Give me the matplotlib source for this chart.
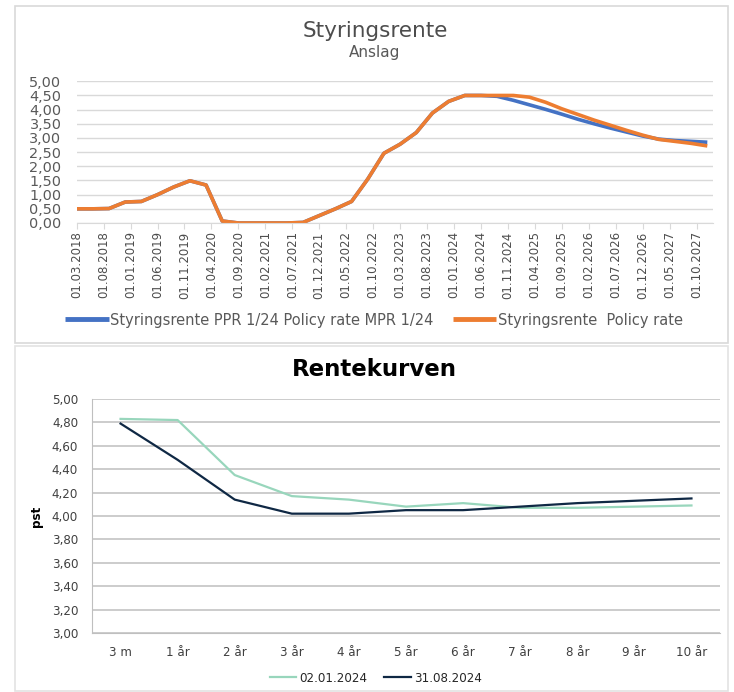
import numpy as np
import matplotlib
matplotlib.use("Agg")
import matplotlib.pyplot as plt
from matplotlib.patches import Rectangle
from matplotlib.ticker import FuncFormatter, MultipleLocator

# --- Styringsrente (quarterly, from 01.03.2018) ---
policy_rate = [0.50, 0.50, 0.51, 0.74, 0.76, 1.00, 1.27, 1.49, 1.34, 0.07,
               0.00, 0.00, 0.00, 0.00, 0.02, 0.26, 0.50, 0.76, 1.55, 2.46,
               2.78, 3.19, 3.88, 4.29, 4.50, 4.50, 4.50, 4.50, 4.44, 4.26,
               4.03, 3.83, 3.63, 3.45, 3.27, 3.10, 2.95, 2.88, 2.81, 2.72]
ppr_124 = [0.50, 0.50, 0.51, 0.74, 0.76, 1.00, 1.27, 1.49, 1.34, 0.07,
           0.00, 0.00, 0.00, 0.00, 0.02, 0.26, 0.50, 0.76, 1.55, 2.46,
           2.78, 3.19, 3.88, 4.29, 4.50, 4.50, 4.47, 4.33, 4.17, 4.01,
           3.84, 3.66, 3.50, 3.35, 3.21, 3.07, 2.96, 2.91, 2.88, 2.85]
date_labels = ['01.03.2018', '01.08.2018', '01.01.2019', '01.06.2019', '01.11.2019',
               '01.04.2020', '01.09.2020', '01.02.2021', '01.07.2021', '01.12.2021',
               '01.05.2022', '01.10.2022', '01.03.2023', '01.08.2023', '01.01.2024',
               '01.06.2024', '01.11.2024', '01.04.2025', '01.09.2025', '01.02.2026',
               '01.07.2026', '01.12.2026', '01.05.2027', '01.10.2027']

# --- Rentekurven ---
maturities = ['3 m', '1 år', '2 år', '3 år', '4 år', '5 år', '6 år', '7 år', '8 år', '9 år', '10 år']
curve_jan = [4.83, 4.82, 4.35, 4.17, 4.14, 4.08, 4.11, 4.07, 4.07, 4.08, 4.09]
curve_aug = [4.79, 4.48, 4.14, 4.02, 4.02, 4.05, 4.05, 4.08, 4.11, 4.13, 4.15]

W, H = 734, 692
fig = plt.figure(figsize=(W / 100, H / 100), dpi=100)
fig.patch.set_facecolor('white')


def fx(px):
    return px / W


def fy(py):
    return 1 - py / H


comma = FuncFormatter(lambda v, p: f'{v:.2f}'.replace('.', ','))
grey_txt = '#595959'

# panel frames
fig.patches.append(Rectangle((fx(15), fy(343)), fx(713), 337 / H, transform=fig.transFigure,
                             fill=False, edgecolor='#D9D9D9', lw=1.2))
fig.patches.append(Rectangle((fx(15), fy(691)), fx(713), 345 / H, transform=fig.transFigure,
                             fill=False, edgecolor='#E3E3E3', lw=1.2))

# ---------------- top chart ----------------
ax1 = fig.add_axes([fx(76.7), fy(223), fx(636), (223 - 81.3) / H])
months = np.arange(len(policy_rate)) * 3
ax1.plot(months, ppr_124, color='#4472C4', lw=2.6, solid_capstyle='butt',
         label='Styringsrente PPR 1/24 Policy rate MPR 1/24')
ax1.plot(months, policy_rate, color='#ED7D31', lw=2.6, solid_capstyle='butt',
         label='Styringsrente  Policy rate')
ax1.set_xlim(0, 118)
ax1.set_ylim(0, 5)
ax1.yaxis.set_major_locator(MultipleLocator(0.5))
ax1.yaxis.set_major_formatter(comma)
ax1.grid(axis='y', color='#D9D9D9', lw=1.0)
ax1.set_axisbelow(True)
for s in ['top', 'right', 'left']:
    ax1.spines[s].set_visible(False)
ax1.spines['bottom'].set_color('#D9D9D9')
ax1.set_xticks(np.arange(len(date_labels)) * 5)
ax1.set_xticklabels(date_labels, rotation=90, fontsize=8.5, color='#4D4D4D')
ax1.tick_params(axis='x', length=4, color='#D9D9D9', pad=2)
ax1.tick_params(axis='y', length=0, pad=11, labelsize=10.4, labelcolor=grey_txt)
ax1.legend(loc='center', bbox_to_anchor=(fx(374), fy(320)), bbox_transform=fig.transFigure,
           ncol=2, frameon=False, fontsize=10.5, handlelength=3.0, handletextpad=0.1,
           columnspacing=1.3, labelcolor=grey_txt)
for line in ax1.get_legend().get_lines():
    line.set_linewidth(3.5)

fig.text(fx(375), fy(31), 'Styringsrente', ha='center', va='center', fontsize=15.5, color='#4D4D4D')
fig.text(fx(375), fy(53), 'Anslag', ha='center', va='center', fontsize=11, color=grey_txt)

# ---------------- bottom chart ----------------
ax2 = fig.add_axes([fx(92), fy(633), fx(628), (633 - 399) / H])
xs = np.arange(len(maturities))
ax2.plot(xs, curve_jan, color='#98D6BC', lw=1.6, label='02.01.2024')
ax2.plot(xs, curve_aug, color='#0F2844', lw=1.6, label='31.08.2024')
ax2.set_xlim(-0.5, len(maturities) - 0.5)
ax2.set_ylim(3, 5)
ax2.yaxis.set_major_locator(MultipleLocator(0.2))
ax2.yaxis.set_major_formatter(comma)
ax2.grid(axis='y', color='#C4C4C4', lw=1.2)
ax2.set_axisbelow(True)
for s in ['top', 'right']:
    ax2.spines[s].set_visible(False)
ax2.spines['left'].set_color('#BFBFBF')
ax2.spines['bottom'].set_color('#BFBFBF')
ax2.set_xticks(xs)
ax2.set_xticklabels(maturities)
ax2.tick_params(axis='x', length=0, pad=9, labelsize=8.6, labelcolor='#404040')
ax2.tick_params(axis='y', length=0, pad=10, labelsize=8.6, labelcolor='#404040')
ax2.set_ylabel('pst', fontsize=8.6, fontweight='bold', labelpad=2)
ax2.yaxis.set_label_coords(fx(43 - 92) / fx(628), 0.5)
ax2.legend(loc='center', bbox_to_anchor=(fx(376), fy(678)), bbox_transform=fig.transFigure,
           ncol=2, frameon=False, fontsize=8.6, handlelength=2.2, handletextpad=0.28,
           columnspacing=1.4, labelcolor='#262626')

fig.text(fx(374), fy(370), 'Rentekurven', ha='center', va='center', fontsize=16.5,
         fontweight='bold', color='black')

fig.savefig('out.png', dpi=100, facecolor='white')
